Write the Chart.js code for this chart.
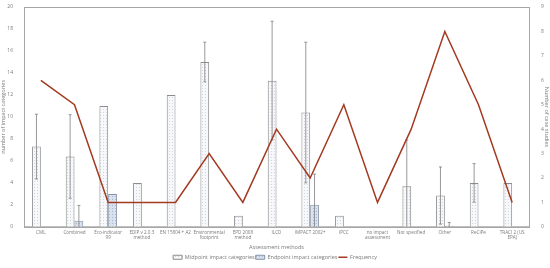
<!DOCTYPE html>
<html>
<head>
<meta charset="utf-8">
<script src="https://cdn.jsdelivr.net/npm/chart.js@4.4.0/dist/chart.umd.min.js"></script>
<style>
html,body{margin:0;padding:0;background:#fff;}
#wrap{width:550px;height:268px;}
</style>
</head>
<body>
<div id="wrap"><canvas id="c" width="550" height="268"></canvas></div>
<script>
const categories = ["CML","Combined",["Eco-indicator","99"],["EDIP v 2.0.3","method"],"EN 15804 + A2",["Environmental","footprint"],["EPD 2008","method"],"ILCD","IMPACT 2002+","IPCC",["no impact","assessment"],"Not specified","Other","ReCiPe",["TRACI 2 (US","EPA)"]];
const midpoint = [7.3, 6.4, 11, 4, 12, 15, 1, 13.3, 10.4, 1, null, 3.7, 2.85, 4, 4];
const midpointErr = [2.95, 3.8, 0, 0, 0, 1.8, 0, 5.4, 6.4, 0, 0, 4.2, 2.6, 1.75, 0];
const endpoint = [null, 0.55, 3, null, null, null, null, null, 2, null, null, null, 0.1, null, null];
const endpointErr = [0, 1.4, 0, 0, 0, 0, 0, 0, 2.8, 0, 0, 0, 0.3, 0, 0];
const frequency = [6, 5, 1, 1, 1, 3, 1, 4, 2, 5, 1, 4, 8, 5, 1];
const leftTicks = [0,2,4,6,8,10,12,14,16,18,20];
const rightTicks = [0,1,2,3,4,5,6,7,8,9];

function makePattern(bg, dot){
  const p = document.createElement('canvas');
  p.width = 3; p.height = 3;
  const g = p.getContext('2d');
  g.fillStyle = bg; g.fillRect(0,0,3,3);
  g.fillStyle = dot; g.fillRect(1,1,1,1);
  return g.createPattern(p,'repeat');
}
const ctx = document.getElementById('c').getContext('2d');
const midFill = makePattern('#f7f8fb', '#cfd4dd');
const endFill = makePattern('#d9e1ef', '#aab6cc');

const FONT = "'Open Sans', 'Liberation Sans', sans-serif";
const TXT = '#7a7a7a';

const errorPlugin = {
  id: 'errbars',
  afterDatasetDraw(chart, args){
    const errs = args.index === 0 ? midpointErr : (args.index === 1 ? endpointErr : null);
    if(!errs) return;
    const vals = args.index === 0 ? midpoint : endpoint;
    const meta = args.meta;
    const ys = chart.scales.y;
    const c = chart.ctx;
    const area = chart.chartArea;
    c.save();
    c.strokeStyle = '#7f7f7f';
    c.lineWidth = 0.8;
    meta.data.forEach((el, i) => {
      const v = vals[i], e = errs[i];
      if(v == null || !e) return;
      const x = el.x;
      const top = ys.getPixelForValue(v + e);
      const botRaw = ys.getPixelForValue(v - e);
      const bot = Math.min(botRaw, area.bottom);
      c.beginPath();
      c.moveTo(x, top); c.lineTo(x, bot);
      c.moveTo(x-1.5, top); c.lineTo(x+1.5, top);
      if(botRaw <= area.bottom){ c.moveTo(x-1.5, bot); c.lineTo(x+1.5, bot); }
      c.stroke();
    });
    c.restore();
  }
};

const framePlugin = {
  id: 'frame',
  afterDraw(chart){
    const a = chart.chartArea, c = chart.ctx;
    c.save();
    c.strokeStyle = '#a6a6a6';
    c.lineWidth = 1;
    c.strokeRect(Math.round(a.left)+0.5, Math.round(a.top)+0.5, Math.round(a.right-a.left), Math.round(a.bottom-a.top));
    c.restore();
  }
};

new Chart(ctx, {
  data: {
    labels: categories,
    datasets: [
      {type:'bar', label:'Midpoint impact categories', data: midpoint, yAxisID:'y', backgroundColor: midFill, borderColor:'#8c8c8c', borderWidth:1, categoryPercentage:0.52, barPercentage:1.0, order:1},
      {type:'bar', label:'Endpoint impact categories', data: endpoint, yAxisID:'y', backgroundColor: endFill, borderColor:'#8592a8', borderWidth:1, categoryPercentage:0.52, barPercentage:1.0, order:1},
      {type:'line', label:'Frequency', data: frequency, yAxisID:'y1', borderColor:'#a33a21', backgroundColor:'#a33a21', borderWidth:1.5, pointRadius:0, tension:0, order:0}
    ]
  },
  options: {
    responsive:false,
    animation:false,
    devicePixelRatio:1,
    layout:{padding:{top:7, left:0, right:0, bottom:-2}},
    plugins:{
      tooltip:{enabled:false},
      legend:{
        position:'bottom',
        labels:{
          font:{family:FONT, size:5.5},
          color:TXT,
          usePointStyle:true,
          pointStyleWidth:9,
          boxWidth:9,
          boxHeight:4,
          padding:1,
          sort:(a,b)=>a.datasetIndex-b.datasetIndex,
          generateLabels(chart){
            const items = Chart.defaults.plugins.legend.labels.generateLabels(chart);
            items.forEach(it => {
              if(it.datasetIndex === 2){ it.pointStyle = 'line'; it.lineWidth = 1.5; }
              else { it.pointStyle = 'rect'; it.lineWidth = 1; }
            });
            return items;
          }
        }
      }
    },
    scales:{
      x:{
        grid:{display:false, drawTicks:false},
        border:{color:'#bfbfbf'},
        ticks:{font:{family:FONT, size:4.6}, color:TXT, maxRotation:0, autoSkip:false, padding:3},
        title:{display:true, text:'Assessment methods', font:{family:FONT, size:5.5}, color:TXT, padding:{top:0,bottom:3}}
      },
      y:{
        position:'left',
        min:0, max:20,
        afterBuildTicks(s){ s.ticks = leftTicks.map(v=>({value:v})); },
        afterFit(s){ s.width = 24; },
        grid:{display:false},
        border:{color:'#a6a6a6'},
        ticks:{font:{family:FONT, size:5}, color:TXT, padding:3},
        title:{display:true, text:'number of impact categories', font:{family:FONT, size:5.5}, color:TXT, padding:0}
      },
      y1:{
        position:'right',
        min:0, max:9,
        afterBuildTicks(s){ s.ticks = rightTicks.map(v=>({value:v})); },
        afterFit(s){ s.width = 21; },
        grid:{display:false},
        border:{color:'#a6a6a6'},
        ticks:{font:{family:FONT, size:5}, color:TXT, padding:4},
        title:{display:true, text:'Number of case studies', font:{family:FONT, size:5.5}, color:TXT, padding:0}
      }
    }
  },
  plugins:[errorPlugin, framePlugin]
});
</script>
</body>
</html>
